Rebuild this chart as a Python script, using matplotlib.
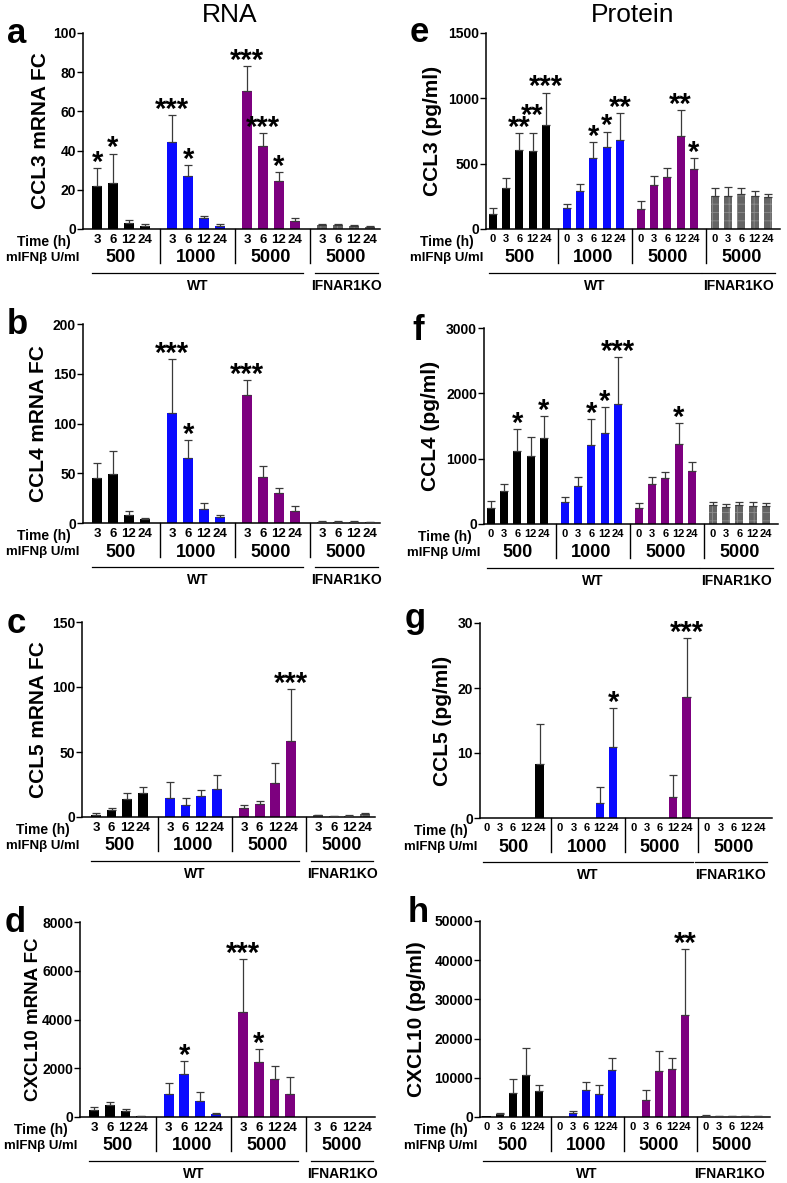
"""Chemokine RNA / protein time course after mIFNb stimulation (panels a-h)."""

import matplotlib.pyplot as plt
from matplotlib.lines import Line2D

plt.rcParams["font.family"] = ["Liberation Sans", "DejaVu Sans"]
plt.rcParams["font.weight"] = "bold"
plt.rcParams["hatch.linewidth"] = 0.6

RNA_TIMES = ["3", "6", "12", "24"]
PROTEIN_TIMES = ["0", "3", "6", "12", "24"]
DOSES = ["500", "1000", "5000", "5000"]
GROUP_COLORS = ["#000000", "#0a0aff", "#7d007f", "#646464"]

# rows: WT 500, WT 1000, WT 5000, IFNAR1KO 5000 ; columns: time points
ccl3_rna = [[22, 23.5, 3.2, 1.5], [44.5, 27.1, 5.6, 1.7],
            [70.6, 42.3, 24.4, 4.1], [2.0, 2.0, 1.7, 1.2]]
ccl3_rna_top = [[31, 38.5, 4.8, 2.4], [58, 32.6, 6.7, 2.7],
                [83, 49, 29.2, 5.8], [2.5, 2.5, 2.1, 1.6]]
ccl3_rna_sig = [["*", "*", "", ""], ["***", "*", "", ""],
                ["***", "***", "*", ""], ["", "", "", ""]]

ccl4_rna = [[45.7, 49, 8.4, 4], [111, 65.2, 14.1, 6],
            [128.7, 46.4, 30.6, 11.8], [1.5, 1.5, 1.5, 1.0]]
ccl4_rna_top = [[60.8, 72.6, 12.1, 5.4], [165, 83.7, 19.8, 8],
                [143.5, 57.5, 35.6, 17.1], [2.2, 2.2, 2.0, 1.5]]
ccl4_rna_sig = [["", "", "", ""], ["***", "*", "", ""],
                ["***", "", "", ""], ["", "", "", ""]]

ccl5_rna = [[1.8, 5.6, 14.1, 18.5], [14.9, 9.5, 16.2, 21.8],
            [6.9, 10, 26.2, 58.7], [1.2, 0.5, 0.8, 2.2]]
ccl5_rna_top = [[2.8, 6.7, 18.7, 23.3], [27.2, 14.6, 20.5, 32],
                [9, 12.6, 41.8, 98.7], [1.8, 0.8, 1.2, 3.3]]
ccl5_rna_sig = [["", "", "", ""], ["", "", "", ""],
                ["", "", "", "***"], ["", "", "", ""]]

cxcl10_rna = [[301, 479, 246, 41], [957, 1750, 643, 109],
              [4308, 2243, 1545, 957], [0, 0, 0, 0]]
cxcl10_rna_top = [[410, 602, 342, 55], [1381, 2297, 1026, 164],
                  [6468, 2803, 2106, 1641], [0, 0, 0, 0]]
cxcl10_rna_sig = [["", "", "", ""], ["", "*", "", ""],
                  ["***", "*", "", ""], ["", "", "", ""]]

ccl3_prot = [[113, 317, 604, 599, 793], [164, 289, 543, 630, 678],
             [156, 335, 399, 712, 456], [251, 251, 266, 251, 246]]
ccl3_prot_top = [[164, 394, 737, 737, 1044], [195, 348, 663, 745, 886],
                 [212, 402, 468, 911, 543], [310, 320, 312, 290, 268]]
ccl3_prot_sig = [["", "", "**", "**", "***"], ["", "", "*", "*", "**"],
                 ["", "", "", "**", "*"], ["", "", "", "", ""]]

ccl4_prot = [[239, 503, 1124, 1047, 1317], [331, 585, 1215, 1388, 1836],
             [244, 605, 702, 1231, 814], [290, 265, 290, 280, 275]]
ccl4_prot_top = [[346, 615, 1454, 1332, 1658], [412, 727, 1602, 1785, 2558],
                 [320, 712, 798, 1541, 956], [340, 310, 330, 330, 315]]
ccl4_prot_sig = [["", "", "*", "", "*"], ["", "", "*", "*", "***"],
                 ["", "", "", "*", ""], ["", "", "", "", ""]]

ccl5_prot = [[0, 0, 0, 0, 8.3], [0, 0, 0, 2.35, 10.9],
             [0, 0, 0, 3.3, 18.6], [0, 0, 0, 0, 0]]
ccl5_prot_top = [[0, 0, 0, 0, 14.4], [0, 0, 0, 4.75, 16.9],
                 [0, 0, 0, 6.6, 27.7], [0, 0, 0, 0, 0]]
ccl5_prot_sig = [["", "", "", "", ""], ["", "", "", "", "*"],
                 ["", "", "", "", "***"], ["", "", "", "", ""]]

cxcl10_prot = [[150, 680, 6130, 10820, 6560], [120, 1100, 6990, 5960, 12010],
               [120, 4260, 11750, 12180, 25980], [300, 150, 150, 150, 200]]
cxcl10_prot_top = [[150, 1020, 9710, 17630, 8260], [120, 1620, 8860, 8180, 15080],
                   [120, 6990, 16950, 15080, 42760], [600, 250, 250, 250, 350]]
cxcl10_prot_sig = [["", "", "", "", ""], ["", "", "", "", ""],
                   ["", "", "", "", "**"], ["", "", "", "", ""]]

# panel layout in pixels: (left, top, right, bottom) of the axes box
PANELS = [
    dict(letter="a", box=(83, 33, 380, 229), label="CCL3 mRNA FC", ymax=100, step=20,
         data=(ccl3_rna, ccl3_rna_top, ccl3_rna_sig), times=RNA_TIMES,
         letter_xy=(7, 43), label_x=41, label_size=15),
    dict(letter="b", box=(83, 324, 380, 523), label="CCL4 mRNA FC", ymax=200, step=50,
         data=(ccl4_rna, ccl4_rna_top, ccl4_rna_sig), times=RNA_TIMES,
         letter_xy=(7, 334), label_x=39, label_size=15),
    dict(letter="c", box=(82, 622, 375, 817), label="CCL5 mRNA FC", ymax=150, step=50,
         data=(ccl5_rna, ccl5_rna_top, ccl5_rna_sig), times=RNA_TIMES,
         letter_xy=(7, 633), label_x=39, label_size=15),
    dict(letter="d", box=(80, 922, 375, 1117), label="CXCL10 mRNA FC", ymax=8000, step=2000,
         data=(cxcl10_rna, cxcl10_rna_top, cxcl10_rna_sig), times=RNA_TIMES,
         letter_xy=(5, 932), label_x=34, label_size=13.5),
    dict(letter="e", box=(486, 33, 780, 229), label="CCL3 (pg/ml)", ymax=1500, step=500,
         data=(ccl3_prot, ccl3_prot_top, ccl3_prot_sig), times=PROTEIN_TIMES,
         letter_xy=(410, 42), label_x=432, label_size=15, lift={(0, 3): 12}),
    dict(letter="f", box=(484, 328, 778, 524), label="CCL4 (pg/ml)", ymax=3000, step=1000,
         data=(ccl4_prot, ccl4_prot_top, ccl4_prot_sig), times=PROTEIN_TIMES,
         letter_xy=(412, 340), label_x=430, label_size=15),
    dict(letter="g", box=(480, 623, 772, 818), label="CCL5 (pg/ml)", ymax=30, step=10,
         data=(ccl5_prot, ccl5_prot_top, ccl5_prot_sig), times=PROTEIN_TIMES,
         letter_xy=(405, 628), label_x=443, label_size=15),
    dict(letter="h", box=(480, 921, 770, 1117), label="CXCL10 (pg/ml)", ymax=50000, step=10000,
         data=(cxcl10_prot, cxcl10_prot_top, cxcl10_prot_sig), times=PROTEIN_TIMES,
         letter_xy=(408, 922), label_x=417, label_size=15),
]

W, H = 787, 1183
fig = plt.figure(figsize=(W / 100, H / 100), dpi=100)


def draw_panel(p):
    left, top, right, bottom = p["box"]
    ax = fig.add_axes([left / W, 1 - bottom / H, (right - left) / W, (bottom - top) / H])
    means, tops, sig = p["data"]
    n = len(p["times"])
    gstep = n + (0.75 if n == 4 else 0.55)
    ax_h = bottom - top
    lift = p.get("lift", {})

    def fy(px):
        return -px / ax_h

    trans = ax.get_xaxis_transform()
    ticks, labels = [], []
    for g, (vals, tvals, stars) in enumerate(zip(means, tops, sig)):
        xs = [g * gstep + i for i in range(n)]
        color = GROUP_COLORS[g]
        if g == 3:
            ax.bar(xs, vals, width=0.62, color=color, edgecolor="#8c8c8c",
                   linewidth=0, hatch="++", zorder=2)
        else:
            ax.bar(xs, vals, width=0.62, color=color, linewidth=0, zorder=2)
        for i, (x, v, t, s) in enumerate(zip(xs, vals, tvals, stars)):
            if t > v:
                ax.errorbar([x], [v], yerr=[[0], [t - v]], fmt="none", ecolor="#3a3a3a",
                            elinewidth=0.9, capsize=3, capthick=0.9, zorder=3)
            if s:
                dy = lift.get((g, i), 0) * 0.72 - 2
                ax.annotate(s, (x, max(t, v)), xytext=(0, dy), textcoords="offset points",
                            ha="center", va="baseline", fontsize=21, fontweight="bold")
        ticks += xs
        labels += p["times"]

        center = g * gstep + (n - 1) / 2
        ax.text(center, fy(29), DOSES[g], transform=trans, ha="center", va="center",
                fontsize=13, fontweight="bold", clip_on=False)
        if g > 0:
            sx = g * gstep - (gstep - n + 1) / 2 + 0.1
            ax.add_line(Line2D([sx, sx], [0, fy(34)], transform=trans, color="black",
                               linewidth=1, clip_on=False))

    wt_end = 2 * gstep + n - 1 + 0.5
    ko_start = 3 * gstep - (0.45 if n == 4 else 0.95)
    ko_end = 3 * gstep + n - 1 + 0.55
    for x0, x1, txt in [(-0.3, wt_end, "WT"), (ko_start, ko_end, "IFNAR1KO")]:
        ax.add_line(Line2D([x0, x1], [fy(44), fy(44)], transform=trans, color="black",
                           linewidth=0.9, clip_on=False))
        ax.text((x0 + x1) / 2, fy(57), txt, transform=trans, ha="center", va="center",
                fontsize=10, fontweight="bold", clip_on=False)

    ax.text(-12 / (right - left), fy(13), "Time (h)", transform=ax.transAxes,
            ha="right", va="center", fontsize=10, fontweight="bold", clip_on=False)
    ax.text(-3 / (right - left), fy(29), "mIFNβ U/ml", transform=ax.transAxes,
            ha="right", va="center", fontsize=9.5, fontweight="bold", clip_on=False)

    ax.set_xticks(ticks, labels)
    ax.tick_params(axis="x", length=0, pad=3.5, labelsize=9.5 if n == 4 else 8)
    ax.tick_params(axis="y", length=4, width=1, pad=1, labelsize=10)
    ax.set_yticks(range(0, p["ymax"] + 1, p["step"]))
    ax.set_ylim(0, p["ymax"])
    if n == 4:
        ax.set_xlim(-0.9, 3 * gstep + n - 1 + 0.65)
    else:
        ax.set_xlim(-0.5, 3 * gstep + n - 1 + 0.9)
    for side in ("top", "right"):
        ax.spines[side].set_visible(False)
    for side in ("left", "bottom"):
        ax.spines[side].set_linewidth(1.1)

    fig.text(p["label_x"] / W, 1 - (top + bottom) / 2 / H, p["label"], rotation=90,
             ha="center", va="center", fontsize=p["label_size"], fontweight="bold")
    lx, ly = p["letter_xy"]
    fig.text(lx / W, 1 - ly / H, p["letter"], ha="left", va="baseline",
             fontsize=25, fontweight="bold")


for panel in PANELS:
    draw_panel(panel)

fig.text(230 / W, 1 - 15 / H, "RNA", ha="center", va="center", fontsize=19,
         fontweight="normal")
fig.text(633 / W, 1 - 15 / H, "Protein", ha="center", va="center", fontsize=19,
         fontweight="normal")

fig.savefig("out.png", dpi=100)
